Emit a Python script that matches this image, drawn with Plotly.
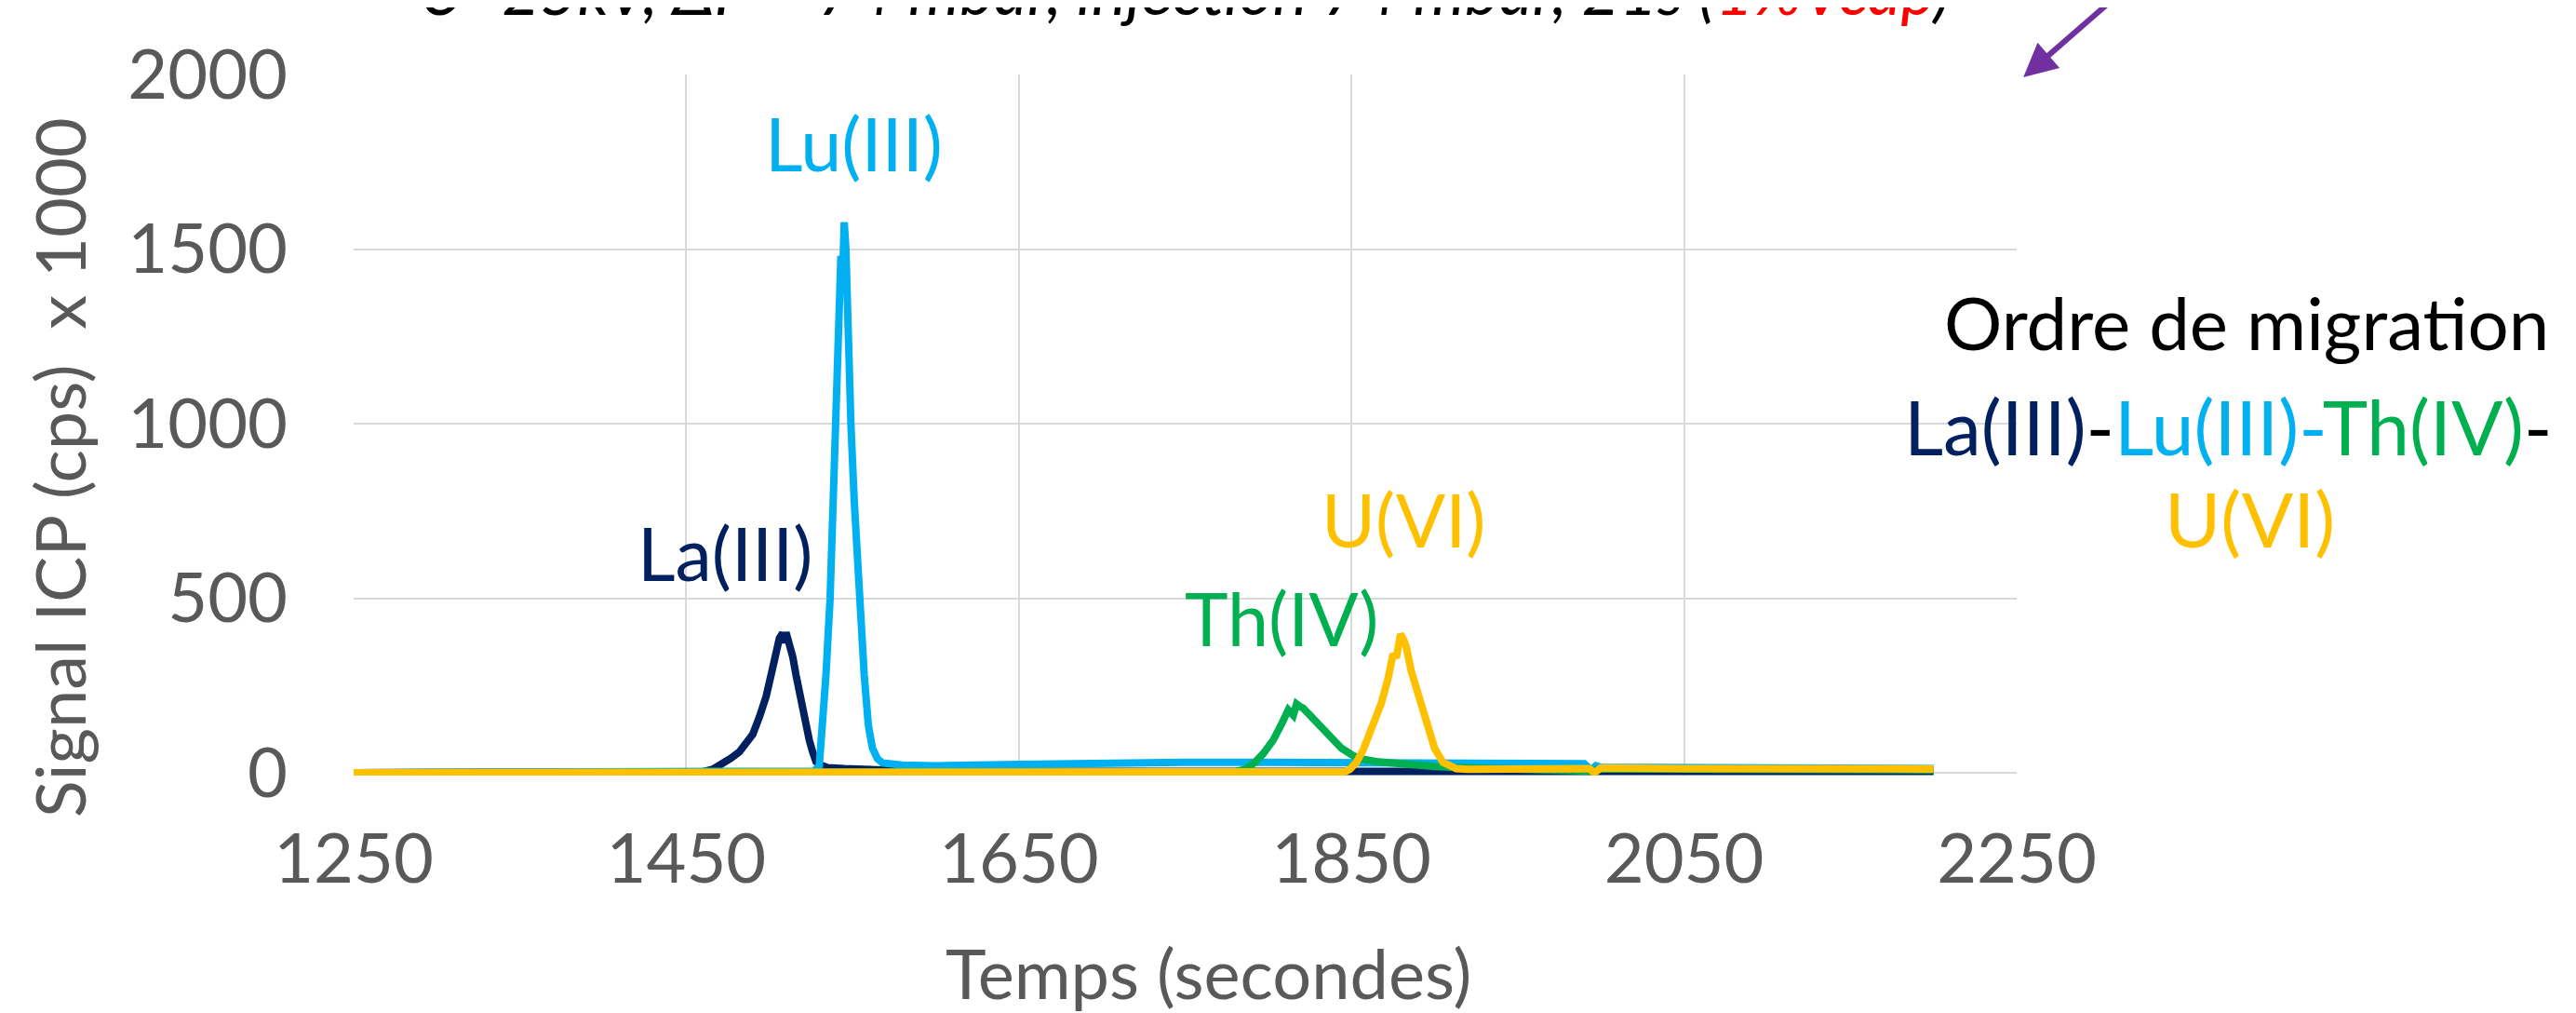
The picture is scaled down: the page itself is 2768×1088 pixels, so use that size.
import plotly.graph_objects as go

# ---------------- data ----------------
la_t = [1250, 1450, 1460, 1466, 1472, 1477, 1482, 1486, 1490, 1494, 1498, 1501, 1504, 1506,
        1508, 1509, 1510, 1512, 1514, 1516, 1519, 1522, 1524, 1526, 1528, 1531, 1535, 1545,
        1560, 1580, 1650, 1750, 1850, 1950, 2050, 2150, 2200]
la_v = [0, 0, 3, 10, 25, 42, 60, 82, 110, 160, 218, 280, 352, 385,
        400, 372, 402, 368, 333, 280, 200, 135, 93, 60, 32, 22, 15, 12,
        10, 6, 4, 3, 3, 3, 4, 4, 4]

lu_t = [1250, 1520, 1527, 1530, 1532, 1534, 1536.5, 1538, 1540, 1541, 1542, 1543, 1544, 1545,
        1546, 1547, 1549, 1551, 1554, 1557, 1559.5, 1562, 1565, 1568, 1580, 1600, 1650, 1700,
        1750, 1800, 1850, 1900, 1950, 1990, 1994, 1997, 2000, 2050, 2100, 2150, 2200]
lu_v = [0, 0, 5, 20, 136, 280, 500, 700, 1000, 1150, 1350, 1480, 1420, 1577,
        1500, 1300, 1000, 780, 500, 280, 136, 70, 40, 28, 22, 20, 24, 28,
        30, 30, 28, 27, 27, 26, 8, 20, 16, 15, 13, 12, 12]

th_t = [1250, 1770, 1780, 1786, 1792, 1797, 1803, 1808, 1812, 1815, 1817, 1819, 1821, 1824,
        1828, 1833, 1838, 1844, 1850, 1855, 1865, 1875, 1888, 1900, 1916, 1950, 1990, 1995,
        2000, 2050, 2100, 2150, 2200]
th_v = [0, 0, 3, 10, 30, 55, 94, 140, 180, 165, 197, 190, 185, 170,
        150, 120, 94, 70, 52, 40, 32, 27, 23, 18, 15, 12, 10, 5,
        11, 10, 9, 8, 8]

u_t = [1250, 1840, 1846, 1849, 1853, 1857, 1861, 1865, 1868, 1872, 1875, 1877, 1879.5, 1881,
       1883, 1886, 1889, 1892, 1896, 1900, 1905, 1910, 1913, 1920, 1950, 1980, 1993, 1996,
       2000, 2050, 2100, 2150, 2200]
u_v = [0, 0, 3, 10, 30, 65, 115, 170, 200, 270, 340, 330, 397, 385,
       360, 290, 240, 200, 130, 70, 30, 15, 12, 10, 10, 11, 12, 0,
       14, 12, 12, 11, 11]

series_names = ["La(III)", "Lu(III)", "Th(IV)", "U(VI)"]
series_colors = ["#002060", "#00B0F0", "#00B050", "#FFC000"]

x_ticks = [1250, 1450, 1650, 1850, 2050, 2250]
y_ticks = [0, 500, 1000, 1500, 2000]

FONT = "Lato"
GRAY = "#595959"

fig = go.Figure()
for name, t, v, c in zip(series_names, [la_t, lu_t, th_t, u_t], [la_v, lu_v, th_v, u_v], series_colors):
    fig.add_trace(go.Scatter(x=t, y=v, mode="lines", name=name,
                             line=dict(color=c, width=8), showlegend=False))

annotations = [
    # peak labels
    dict(x=1551, y=1805, text="Lu(III)", font=dict(color="#00B0F0", size=79)),
    dict(x=1473, y=630, text="La(III)", font=dict(color="#002060", size=79)),
    dict(x=1808, y=443, text="Th(IV)", font=dict(color="#00B050", size=79)),
    dict(x=1881, y=726, text="U(VI)", font=dict(color="#FFC000", size=79)),
]
for a in annotations:
    a.update(xref="x", yref="y", showarrow=False, xanchor="center", yanchor="middle")
    a["font"]["family"] = FONT

side = [
    dict(x=1.138, y=0.647, text="Ordre de migration", font=dict(color="black", size=78)),
    dict(x=1.127, y=0.499,
         text="<span style='color:#002060'>La(III)</span><span style='color:black'>-</span>"
              "<span style='color:#00B0F0'>Lu(III)-</span>"
              "<span style='color:#00B050'>Th(IV)</span><span style='color:black'>-</span>",
         font=dict(color="black", size=82)),
    dict(x=1.140, y=0.368, text="U(VI)", font=dict(color="#FFC000", size=82)),
    # axis titles
    dict(x=0.514, y=-0.281, text="Temps (secondes)", font=dict(color=GRAY, size=74)),
    dict(x=-0.177, y=0.439, text="Signal ICP (cps)  x 1000", textangle=-90,
         font=dict(color=GRAY, size=74)),
    # title (cropped at the top edge, as in the reference)
    dict(x=0.5, y=1.063, yanchor="bottom",
         text="<i>U=25kV, ΔP = 74 mbar, injection 74 mbar, 21s (<span style='color:red'>1%Vcap</span>)</i>",
         font=dict(color="black", size=70)),
]
for a in side:
    a.setdefault("yanchor", "middle")
    a.update(xref="paper", yref="paper", showarrow=False, xanchor="center")
    a["font"]["family"] = FONT
annotations += side

# purple arrow pointing to the top-right corner of the plot area
annotations.append(dict(x=1.004, y=0.996, xref="x domain", yref="y domain", text="",
                        showarrow=True, arrowhead=2, arrowsize=1.2, arrowwidth=6,
                        arrowcolor="#7030A0", axref="x domain", ayref="y domain",
                        ax=1.0576, ay=1.1067))

fig.update_layout(
    width=2768, height=1088,
    margin=dict(l=372, r=609, t=72, b=263),
    paper_bgcolor="white", plot_bgcolor="white",
    annotations=annotations,
    font=dict(family=FONT, color=GRAY),
)
fig.update_xaxes(range=[1250, 2250], tickvals=x_ticks, ticktext=[str(v) for v in x_ticks],
                 showgrid=True, gridcolor="#D9D9D9", gridwidth=2, zeroline=False,
                 showline=False,
                 tickfont=dict(size=74, color=GRAY, family=FONT), ticks="",
                 ticklabelstandoff=40)
fig.update_yaxes(range=[-8, 2000], tickvals=y_ticks, ticktext=[str(v) for v in y_ticks],
                 showgrid=True, gridcolor="#D9D9D9", gridwidth=2, zeroline=False,
                 showline=False,
                 tickfont=dict(size=74, color=GRAY, family=FONT), ticks="",
                 ticklabelstandoff=70)

fig.write_html("out.html")
